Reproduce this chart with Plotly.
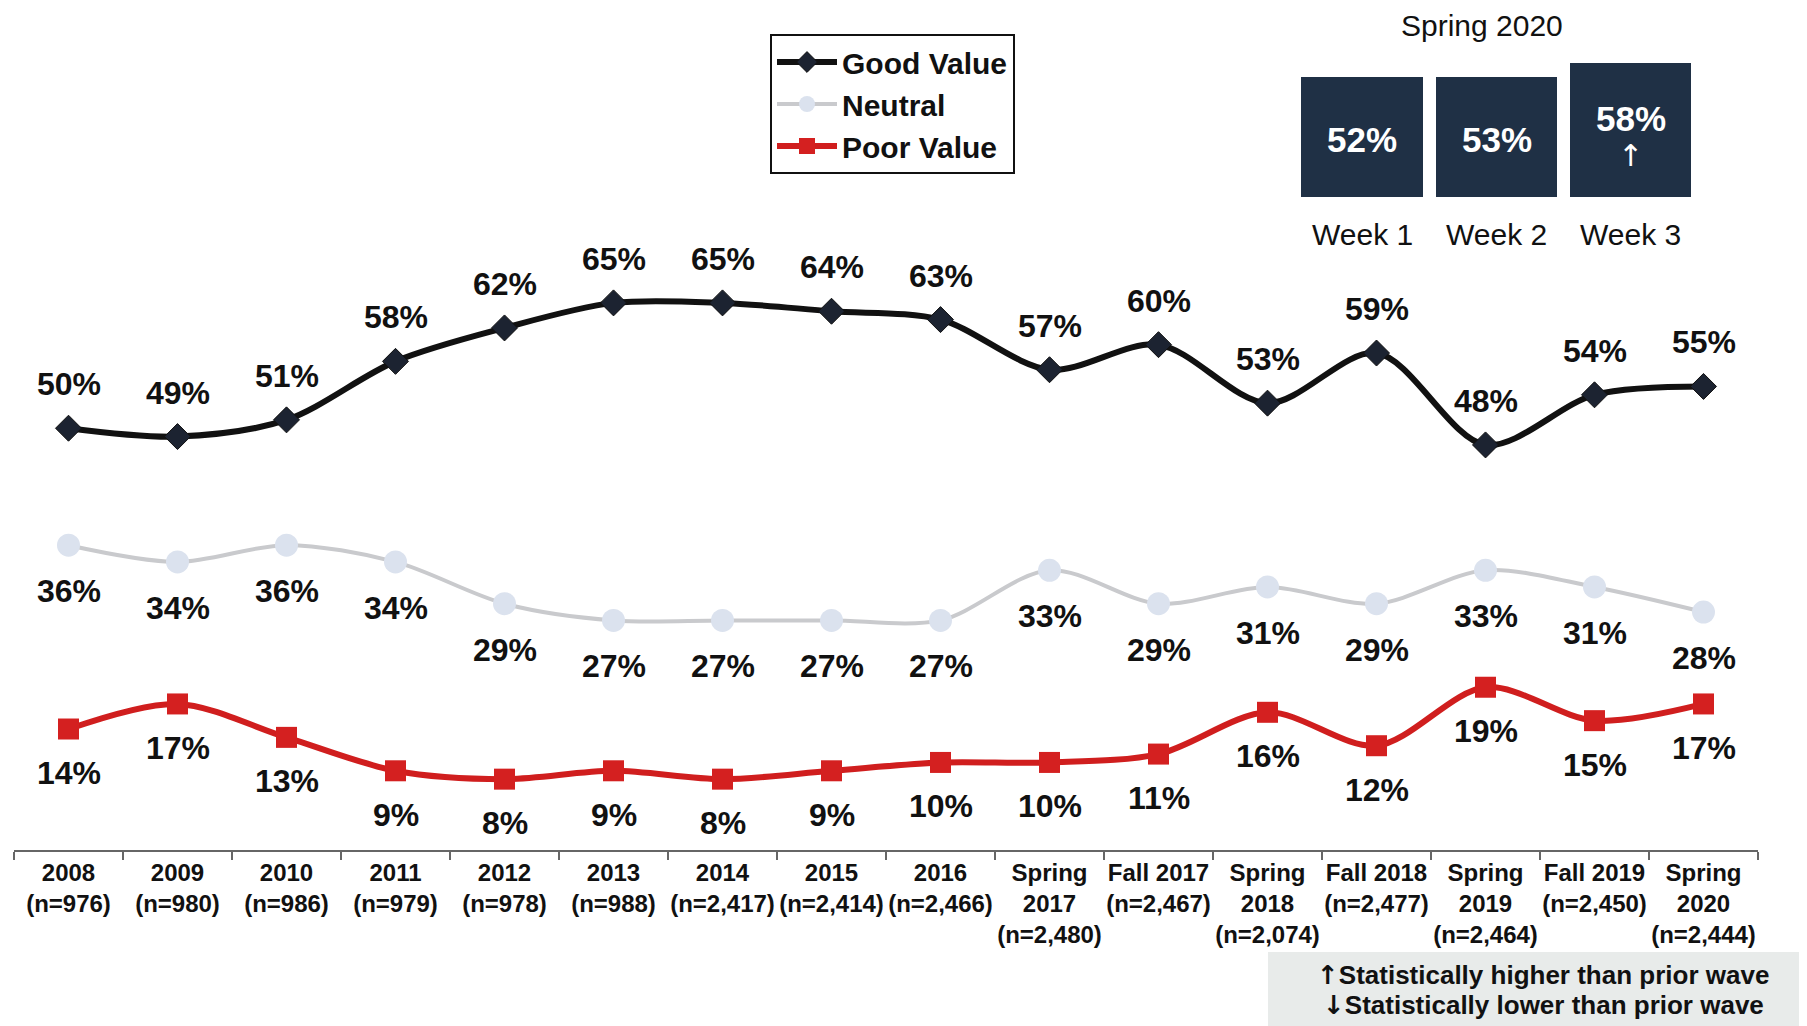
import plotly.graph_objects as go

# ---------------- data ----------------
categories = [
    "2008<br>(n=976)", "2009<br>(n=980)", "2010<br>(n=986)", "2011<br>(n=979)",
    "2012<br>(n=978)", "2013<br>(n=988)", "2014<br>(n=2,417)", "2015<br>(n=2,414)",
    "2016<br>(n=2,466)", "Spring<br>2017<br>(n=2,480)", "Fall 2017<br>(n=2,467)",
    "Spring<br>2018<br>(n=2,074)", "Fall 2018<br>(n=2,477)", "Spring<br>2019<br>(n=2,464)",
    "Fall 2019<br>(n=2,450)", "Spring<br>2020<br>(n=2,444)",
]
good_value = [50, 49, 51, 58, 62, 65, 65, 64, 63, 57, 60, 53, 59, 48, 54, 55]
neutral = [36, 34, 36, 34, 29, 27, 27, 27, 27, 33, 29, 31, 29, 33, 31, 28]
poor_value = [14, 17, 13, 9, 8, 9, 8, 9, 10, 10, 11, 16, 12, 19, 15, 17]

inset_title = "Spring 2020"
week_labels = ["Week 1", "Week 2", "Week 3"]
week_values = [52, 53, 58]
week_flags = ["", "", "↑"]

note_lines = ["↑Statistically higher than prior wave", "↓Statistically lower than prior wave"]

# ---------------- layout geometry (page pixels) ----------------
PAGE_W, PAGE_H = 1807, 1026
OFF = 8                      # default body margin of the html page
W, H = PAGE_W - OFF, PAGE_H - OFF
PLOT_X0, PLOT_X1 = 14, 1758  # page px of the plot area
PLOT_Y0, PLOT_Y1 = 94, 850
L, R = PLOT_X0 - OFF, PAGE_W - PLOT_X1
T, B = PLOT_Y0 - OFF, PAGE_H - PLOT_Y1
PW, PH = PLOT_X1 - PLOT_X0, PLOT_Y1 - PLOT_Y0

def px(X):
    return (X - PLOT_X0) / PW

def py(Y):
    return (PLOT_Y1 - Y) / PH

FONT = "Liberation Sans, Arial, sans-serif"
ARROW_FONT = "DejaVu Sans"

def arrowize(s):
    out = ""
    for ch in s:
        if ch in "↑↓":
            out += f'<span style="font-family:{ARROW_FONT}">{ch}</span>'
        else:
            out += ch
    return out

fig = go.Figure()

fig.add_trace(go.Scatter(
    x=categories, y=good_value, name="Good Value", mode="lines+markers",
    line=dict(color="#111111", width=6, shape="spline", smoothing=0.9),
    marker=dict(symbol="diamond", size=20, color="#1c2331",
                line=dict(color="#111111", width=1)),
))
fig.add_trace(go.Scatter(
    x=categories, y=neutral, name="Neutral", mode="lines+markers",
    line=dict(color="#c9cacd", width=4, shape="spline", smoothing=0.9),
    marker=dict(symbol="circle", size=23, color="#dbe2ee"),
))
fig.add_trace(go.Scatter(
    x=categories, y=poor_value, name="Poor Value", mode="lines+markers",
    line=dict(color="#d01e1e", width=6, shape="spline", smoothing=0.9),
    marker=dict(symbol="square", size=21, color="#d42020"),
))

LABEL_FONT = dict(family=FONT, size=32, color="#111111", weight="bold")
annotations = []
for c, v in zip(categories, good_value):
    annotations.append(dict(x=c, y=v, text=f"{v}%", showarrow=False, yshift=44, font=LABEL_FONT))
for c, v in zip(categories, neutral):
    annotations.append(dict(x=c, y=v, text=f"{v}%", showarrow=False, yshift=-46, font=LABEL_FONT))
for c, v in zip(categories, poor_value):
    annotations.append(dict(x=c, y=v, text=f"{v}%", showarrow=False, yshift=-44, font=LABEL_FONT))

# inset: Spring 2020 weekly boxes
shapes = []
box_x = [(1301, 1423), (1436, 1557), (1570, 1691)]
box_top = [77, 77, 63]
box_bottom = 197
for (x0, x1), top, lab, val, flag in zip(box_x, box_top, week_labels, week_values, week_flags):
    shapes.append(dict(type="rect", xref="paper", yref="paper",
                       x0=px(x0), x1=px(x1), y0=py(box_bottom), y1=py(top),
                       fillcolor="#1f3045", line=dict(width=0), layer="above"))
    cx = px((x0 + x1) / 2)
    annotations.append(dict(x=cx, y=py(118 if flag else 140), xref="paper", yref="paper",
                            text=f"{val}%", showarrow=False, xanchor="center", yanchor="middle",
                            font=dict(family=FONT, size=35, color="white", weight="bold")))
    if flag:
        annotations.append(dict(x=cx, y=py(156), xref="paper", yref="paper",
                                text=flag, showarrow=False, xanchor="center", yanchor="middle",
                                font=dict(family=ARROW_FONT, size=30, color="white")))
    annotations.append(dict(x=cx, y=py(234), xref="paper", yref="paper", text=lab,
                            showarrow=False, xanchor="center", yanchor="middle",
                            font=dict(family=FONT, size=30, color="#111111")))
annotations.append(dict(x=px(1482), y=py(25), xref="paper", yref="paper", text=inset_title,
                        showarrow=False, xanchor="center", yanchor="middle",
                        font=dict(family=FONT, size=30, color="#111111")))

# note box bottom right
shapes.append(dict(type="rect", xref="paper", yref="paper",
                   x0=px(1268), x1=px(PAGE_W), y0=py(PAGE_H), y1=py(952),
                   fillcolor="#e8ebea", line=dict(width=0), layer="below"))
for yy, line in zip([975, 1005], note_lines):
    annotations.append(dict(x=px(1543), y=py(yy), xref="paper", yref="paper", text=arrowize(line),
                            showarrow=False, xanchor="center", yanchor="middle",
                            font=dict(family=FONT, size=26, color="#111111", weight="bold")))

fig.update_layout(
    width=W, height=H,
    margin=dict(l=L, r=R, t=T, b=B, autoexpand=False),
    paper_bgcolor="white", plot_bgcolor="white",
    font=dict(family=FONT, color="#111111"),
    showlegend=True,
    legend=dict(x=px(770), y=py(34), xanchor="left", yanchor="top",
                bordercolor="#111111", borderwidth=2, bgcolor="white",
                font=dict(family=FONT, size=30, color="#111111", weight="bold"),
                itemwidth=60, tracegroupgap=0),
    xaxis=dict(type="category", range=[-0.5, len(categories) - 0.5], automargin=False,
               showgrid=False, zeroline=False, showline=True, linecolor="#666666", linewidth=2,
               ticks="outside", tickson="boundaries", ticklen=8, tickcolor="#666666", tickwidth=2,
               tickangle=0,
               tickfont=dict(family=FONT, size=24, color="#111111", weight="bold"),
               fixedrange=True),
    yaxis=dict(range=[-0.48, 90], visible=False, showgrid=False, zeroline=False,
               automargin=False, fixedrange=True),
    annotations=annotations,
    shapes=shapes,
)

fig.write_html("out.html")
